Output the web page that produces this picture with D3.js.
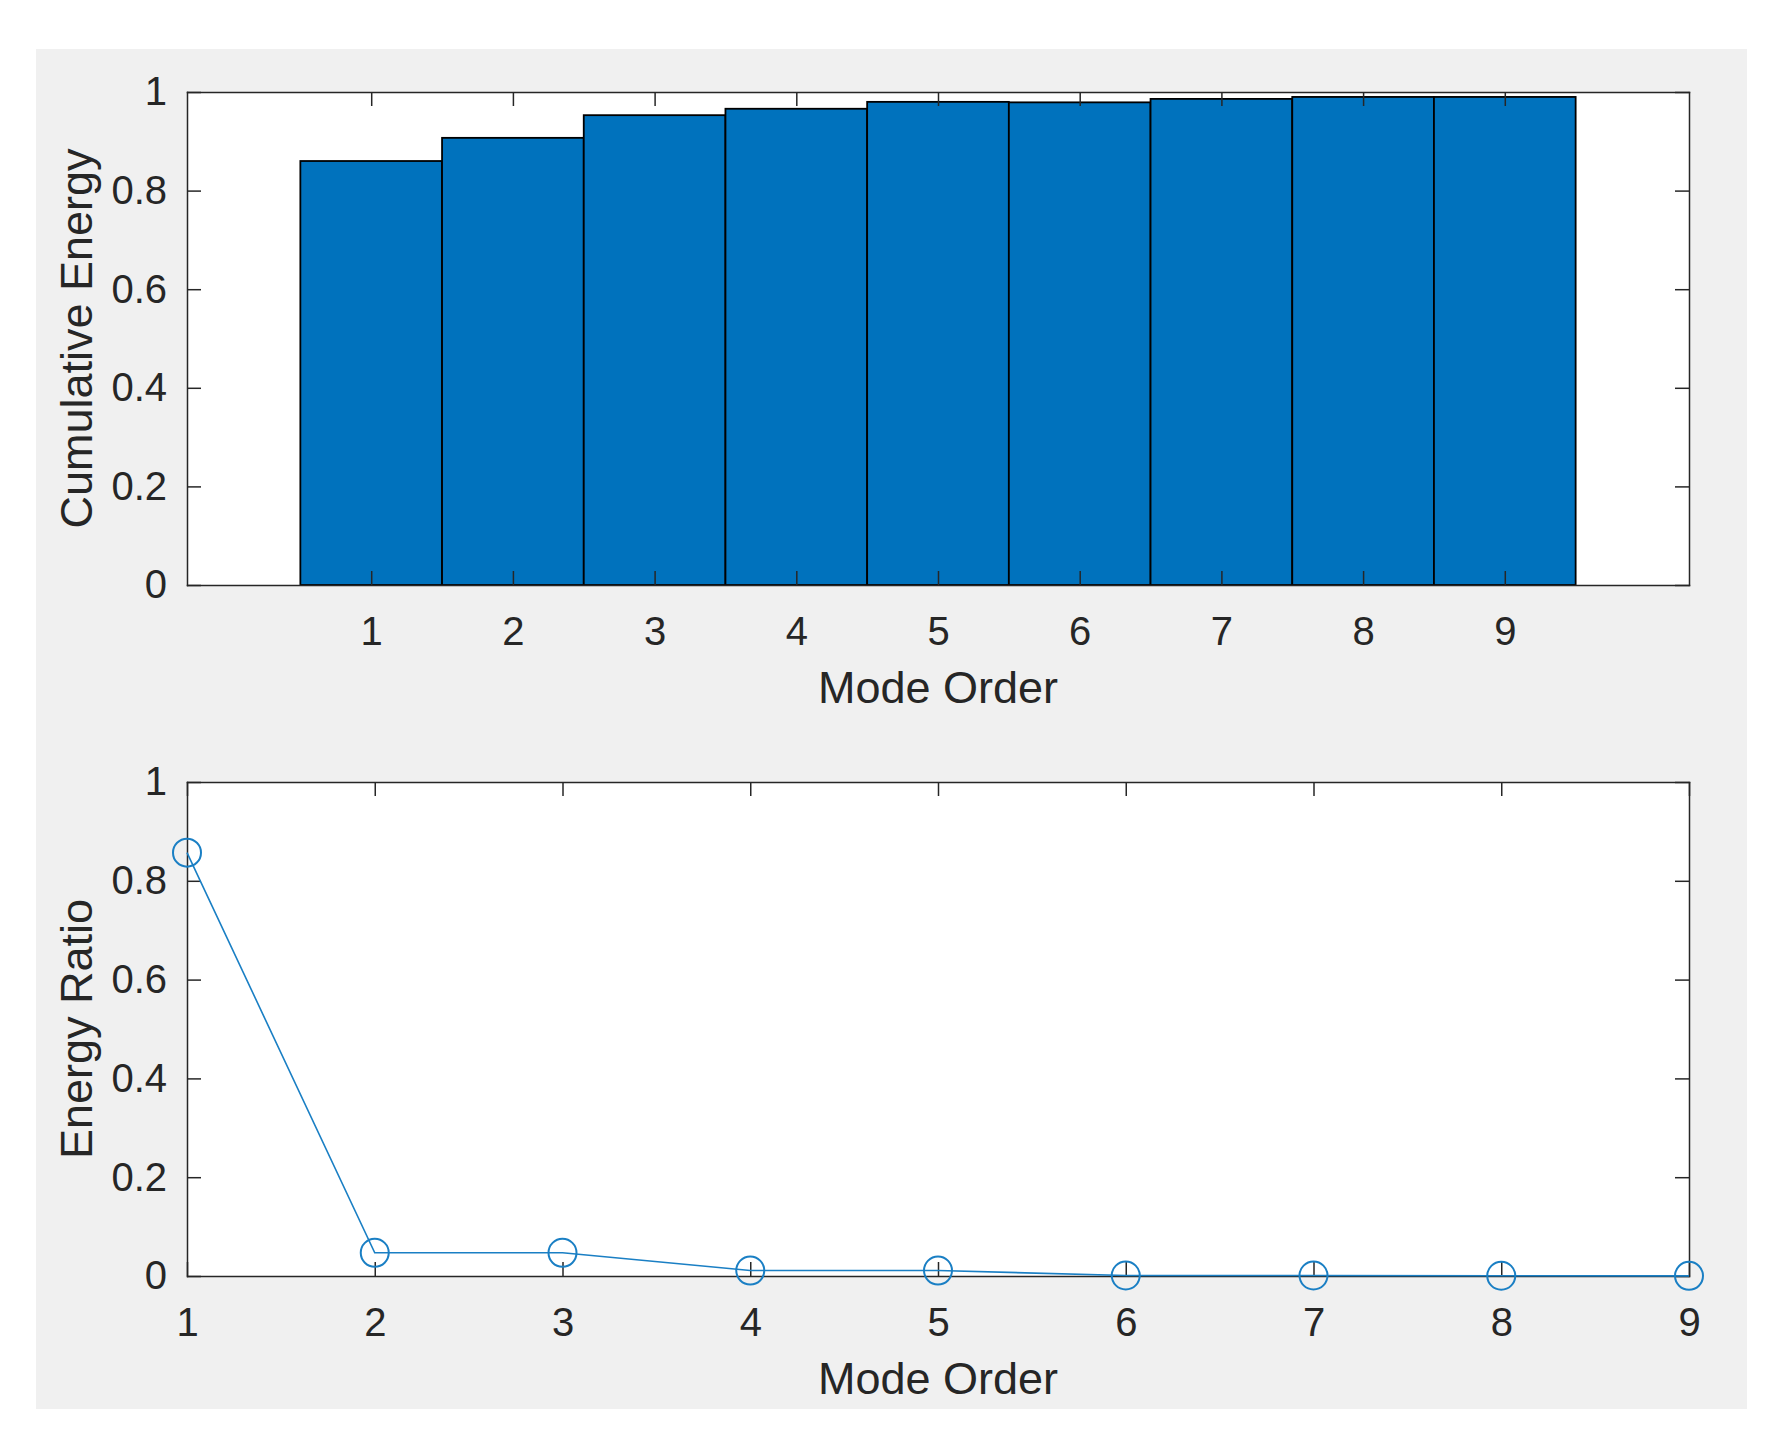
<!DOCTYPE html>
<html>
<head>
<meta charset="utf-8">
<style>
    body { margin: 0; background: #fff; }
    svg text { font-family: "Liberation Sans", Arial, Helvetica, sans-serif; fill: #262626; }
    .axis path, .axis line { stroke: #262626; stroke-width: 1.5; }
    .axis text { font-size: 40px; fill: #262626; }
    .label { font-size: 45px; text-anchor: middle; }
</style>
<script src="https://d3js.org/d3.v7.min.js"></script>
</head>
<body>
<svg width="1779" height="1446"></svg>
<script>
// data
var modes = [1, 2, 3, 4, 5, 6, 7, 8, 9];
var cumEnergy = [0.860, 0.907, 0.953, 0.966, 0.980, 0.979, 0.986, 0.990, 0.990];
var energyRatio = [0.857, 0.047, 0.047, 0.011, 0.011, 0.001, 0.001, 0.0005, 0.0003];
var yTicks = [0, 0.2, 0.4, 0.6, 0.8, 1];
var xLabel = "Mode Order";
var yLabelTop = "Cumulative Energy";
var yLabelBottom = "Energy Ratio";

var svg = d3.select("svg");
var blue = "#0072BD";
var tick = 14;

// grey figure background
svg.append("rect")
    .attr("x", 36).attr("y", 49)
    .attr("width", 1711).attr("height", 1360)
    .attr("fill", "#f0f0f0");

var left = 187, right = 1689;

function yFmt(d) { return d === 0 || d === 1 ? String(d) : d.toFixed(1); }

// white plot area
function plotArea(top, bottom) {
    svg.append("rect")
        .attr("x", left).attr("y", top)
        .attr("width", right - left).attr("height", bottom - top)
        .attr("fill", "#fff");
}

// box with inward ticks on all four sides
function frame(x, y, top, bottom, xticks) {
    svg.append("g").attr("class", "axis")
        .attr("transform", "translate(0," + bottom + ")")
        .call(d3.axisBottom(x).tickValues(xticks).tickFormat(d3.format("d"))
            .tickSizeInner(-tick).tickSizeOuter(0).tickPadding(32));
    svg.append("g").attr("class", "axis")
        .attr("transform", "translate(0," + top + ")")
        .call(d3.axisTop(x).tickValues(xticks).tickFormat("")
            .tickSizeInner(-tick).tickSizeOuter(0));
    svg.append("g").attr("class", "axis")
        .attr("transform", "translate(" + left + ",0)")
        .call(d3.axisLeft(y).tickValues(yTicks).tickFormat(yFmt)
            .tickSizeInner(-tick).tickSizeOuter(0).tickPadding(20));
    svg.append("g").attr("class", "axis")
        .attr("transform", "translate(" + right + ",0)")
        .call(d3.axisRight(y).tickValues(yTicks).tickFormat("")
            .tickSizeInner(-tick).tickSizeOuter(0));
    svg.selectAll(".axis .domain").attr("stroke-linecap", "square");
}

// ---- top: cumulative energy bars ----
var top1 = 92, bot1 = 585;
var x1 = d3.scaleLinear().domain([-0.3, 10.3]).range([left, right]);
var y1 = d3.scaleLinear().domain([0, 1]).range([bot1, top1]);

plotArea(top1, bot1);

svg.append("g").selectAll("rect")
    .data(modes)
    .enter().append("rect")
    .attr("x", function(d) { return x1(d - 0.5); })
    .attr("width", function(d) { return x1(d + 0.5) - x1(d - 0.5); })
    .attr("y", function(d, i) { return y1(cumEnergy[i]); })
    .attr("height", function(d, i) { return y1(0) - y1(cumEnergy[i]); })
    .attr("fill", blue)
    .attr("stroke", "#000")
    .attr("stroke-width", 1.8);

frame(x1, y1, top1, bot1, modes);

svg.append("text").attr("class", "label")
    .attr("x", (left + right) / 2).attr("y", 703)
    .text(xLabel);
svg.append("text").attr("class", "label")
    .attr("transform", "translate(92," + (top1 + bot1) / 2 + ") rotate(-90)")
    .text(yLabelTop);

// ---- bottom: energy ratio line ----
var top2 = 782, bot2 = 1276;
var x2 = d3.scaleLinear().domain([1, 9]).range([left, right]);
var y2 = d3.scaleLinear().domain([0, 1]).range([bot2, top2]);

plotArea(top2, bot2);
frame(x2, y2, top2, bot2, modes);

var line = d3.line()
    .x(function(d, i) { return x2(modes[i]); })
    .y(function(d) { return y2(d); });

svg.append("path")
    .datum(energyRatio)
    .attr("d", line)
    .attr("fill", "none")
    .attr("stroke", "#1a7fc4")
    .attr("stroke-width", 1.6);

svg.append("g").selectAll("circle")
    .data(energyRatio)
    .enter().append("circle")
    .attr("cx", function(d, i) { return x2(modes[i]); })
    .attr("cy", function(d) { return y2(d); })
    .attr("r", 14)
    .attr("fill", "none")
    .attr("stroke", "#1a7fc4")
    .attr("stroke-width", 2);

svg.append("text").attr("class", "label")
    .attr("x", (left + right) / 2).attr("y", 1394)
    .text(xLabel);
svg.append("text").attr("class", "label")
    .attr("transform", "translate(92," + (top2 + bot2) / 2 + ") rotate(-90)")
    .text(yLabelBottom);
</script>
</body>
</html>
